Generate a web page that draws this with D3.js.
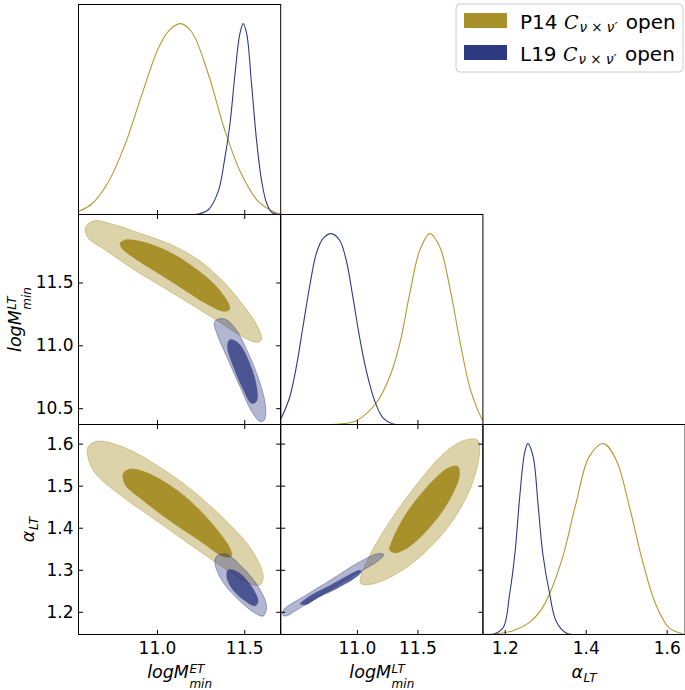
<!DOCTYPE html>
<html><head><meta charset="utf-8">
<script src="https://cdn.jsdelivr.net/npm/d3@7"></script>
<style>body{margin:0;background:#fff;} text{font-family:"DejaVu Sans",sans-serif;}</style>
</head><body>
<svg id="c" width="685" height="690"></svg>
<script>
// ---------- data ----------
const paramDomains = [[10.55, 11.709], [10.37, 12.041], [1.146, 1.6455]];
const xTicks = [[11.0, 11.5], [11.0, 11.5], [1.2, 1.4, 1.6]];
const yTicks = [null, [10.5, 11.0, 11.5], [1.2, 1.3, 1.4, 1.5, 1.6]];
const xLabels = [["logM", "ET", "min"], ["logM", "LT", "min"], ["α", null, "LT"]];
const seriesNames = ["P14", "L19"];

// 1D marginals (x, normalised density)
const p14_logMET = [[10.549,0.016],[10.626,0.055],[10.721,0.170],[10.817,0.367],[10.912,0.625],[11.007,0.870],[11.07,0.965],[11.133,1.0],[11.199,0.956],[11.294,0.736],[11.389,0.44],[11.485,0.209],[11.580,0.069],[11.676,0.012],[11.710,0.004]];
const l19_logMET = [[11.122,0],[11.237,0.003],[11.294,0.025],[11.351,0.121],[11.389,0.297],[11.418,0.473],[11.447,0.736],[11.475,0.947],[11.494,1.0],[11.514,0.947],[11.542,0.683],[11.571,0.385],[11.600,0.174],[11.628,0.06],[11.657,0.012],[11.695,0]];
const p14_logMLT = [[10.581,0],[10.857,0.003],[10.995,0.020],[11.161,0.114],[11.271,0.250],[11.353,0.421],[11.436,0.684],[11.519,0.912],[11.602,1.0],[11.685,0.93],[11.767,0.719],[11.850,0.439],[11.933,0.193],[12.002,0.07],[12.041,0.02]];
const l19_logMLT = [[10.374,0.032],[10.443,0.14],[10.498,0.298],[10.553,0.508],[10.608,0.719],[10.664,0.895],[10.719,0.974],[10.788,1.0],[10.857,0.965],[10.912,0.859],[10.967,0.666],[11.022,0.456],[11.078,0.28],[11.147,0.123],[11.215,0.035],[11.298,0.003],[11.409,0]];
const p14_alpha = [[1.146,0.001],[1.180,0.004],[1.220,0.020],[1.262,0.065],[1.290,0.130],[1.311,0.215],[1.343,0.405],[1.376,0.687],[1.409,0.933],[1.444,1.0],[1.475,0.915],[1.508,0.669],[1.540,0.387],[1.573,0.158],[1.606,0.035],[1.639,0.005]];
const l19_alpha = [[1.171,0],[1.196,0.035],[1.212,0.211],[1.225,0.423],[1.237,0.722],[1.249,0.951],[1.257,1.0],[1.270,0.933],[1.282,0.687],[1.294,0.423],[1.311,0.211],[1.327,0.07],[1.352,0.008],[1.385,0]];

// 2D contours (68% inner, 95% outer) in data units
const p14_ET_LT_95 = [[10.588,11.931],[10.635,11.990],[10.759,11.958],[10.912,11.887],[11.084,11.799],[11.237,11.680],[11.370,11.521],[11.485,11.336],[11.571,11.164],[11.599,11.045],[11.571,11.024],[11.485,11.072],[11.351,11.191],[11.199,11.323],[11.027,11.468],[10.855,11.614],[10.702,11.760],[10.607,11.852]];
const p14_ET_LT_68 = [[10.788,11.812],[10.817,11.839],[10.912,11.826],[11.046,11.760],[11.179,11.654],[11.313,11.508],[11.399,11.362],[11.418,11.288],[11.380,11.270],[11.275,11.336],[11.141,11.455],[10.989,11.587],[10.855,11.706],[10.798,11.773]];
const l19_ET_LT_95 = [[11.342,11.204],[11.389,11.209],[11.447,11.138],[11.523,10.939],[11.590,10.701],[11.622,10.516],[11.615,10.405],[11.590,10.394],[11.542,10.476],[11.475,10.674],[11.399,10.912],[11.342,11.098],[11.328,11.178]];
const l19_ET_LT_68 = [[11.418,11.045],[11.466,11.019],[11.523,10.886],[11.571,10.675],[11.571,10.556],[11.542,10.537],[11.494,10.648],[11.437,10.833],[11.403,10.992]];
const p14_ET_al_95 = [[10.607,1.594],[10.664,1.606],[10.817,1.590],[11.008,1.546],[11.199,1.490],[11.389,1.419],[11.542,1.348],[11.609,1.284],[11.590,1.264],[11.523,1.268],[11.370,1.308],[11.179,1.363],[10.989,1.419],[10.798,1.475],[10.645,1.530],[10.603,1.570]];
const p14_ET_al_68 = [[10.807,1.530],[10.855,1.540],[10.989,1.522],[11.160,1.475],[11.313,1.411],[11.418,1.352],[11.428,1.333],[11.389,1.330],[11.237,1.371],[11.065,1.419],[10.912,1.467],[10.817,1.502]];
const l19_ET_al_95 = [[11.342,1.332],[11.389,1.338],[11.485,1.308],[11.580,1.260],[11.628,1.213],[11.609,1.190],[11.561,1.197],[11.447,1.237],[11.370,1.276],[11.332,1.316]];
const l19_ET_al_68 = [[11.409,1.300],[11.466,1.294],[11.542,1.260],[11.580,1.225],[11.561,1.214],[11.494,1.229],[11.428,1.256],[11.399,1.284]];
const p14_LT_al_95 = [[11.033,1.284],[11.116,1.340],[11.281,1.419],[11.502,1.506],[11.723,1.578],[11.889,1.608],[11.999,1.608],[12.013,1.578],[11.944,1.498],[11.778,1.411],[11.557,1.340],[11.337,1.292],[11.143,1.267],[11.033,1.267]];
const p14_LT_al_68 = [[11.281,1.363],[11.392,1.427],[11.557,1.490],[11.751,1.542],[11.833,1.546],[11.847,1.522],[11.751,1.459],[11.585,1.395],[11.419,1.352],[11.309,1.340],[11.268,1.348]];
const l19_LT_al_95 = [[10.385,1.193],[10.398,1.206],[10.564,1.237],[10.785,1.276],[11.006,1.316],[11.171,1.338],[11.221,1.336],[11.171,1.320],[10.978,1.288],[10.757,1.248],[10.536,1.210],[10.412,1.190]];
const l19_LT_al_68 = [[10.531,1.219],[10.619,1.239],[10.785,1.264],[10.923,1.286],[11.019,1.299],[11.039,1.296],[10.992,1.282],[10.840,1.256],[10.674,1.233],[10.578,1.217]];

// ---------- layout / style ----------
const L = 78.5, T = 4.5, W = 202.2, H = 210;
const colors = {P14: "#a8912a", L19: "#2e3a80"};
const lineColors = {P14: "#b19a32", L19: "#2e3a86"};
const svg = d3.select("#c");
const xs = paramDomains.map((d, i) => d3.scaleLinear().domain(d).range([L + i * W, L + (i + 1) * W]));
const ys = paramDomains.map((d, i) => d3.scaleLinear().domain(d).range([T + (i + 1) * H, T + i * H]));
const yDens = i => d3.scaleLinear().domain([0, 1.1]).range([T + (i + 1) * H, T + i * H]);

const defs = svg.append("defs");
for (let r = 0; r < 3; r++) for (let c = 0; c <= r; c++) {
  defs.append("clipPath").attr("id", `cp${r}${c}`).append("rect")
    .attr("x", L + c * W).attr("y", T + r * H).attr("width", W).attr("height", H);
}

// 1D marginals
const diag = [[p14_logMET, l19_logMET], [p14_logMLT, l19_logMLT], [p14_alpha, l19_alpha]];
diag.forEach((pair, i) => {
  const yy = yDens(i);
  const g = svg.append("g").attr("clip-path", `url(#cp${i}${i})`);
  pair.forEach((data, k) => {
    const name = seriesNames[k];
    const line = d3.line().x(d => xs[i](d[0])).y(d => yy(Math.max(0, d[1]))).curve(d3.curveCatmullRom.alpha(0.5));
    g.append("path").attr("d", line(data)).attr("fill", "none")
      .attr("stroke", lineColors[name]).attr("stroke-width", 1.1);
  });
});

// 2D contours
const panels2d = [
  {r: 1, c: 0, sets: [[p14_ET_LT_95, p14_ET_LT_68], [l19_ET_LT_95, l19_ET_LT_68]]},
  {r: 2, c: 0, sets: [[p14_ET_al_95, p14_ET_al_68], [l19_ET_al_95, l19_ET_al_68]]},
  {r: 2, c: 1, sets: [[p14_LT_al_95, p14_LT_al_68], [l19_LT_al_95, l19_LT_al_68]]}
];
const outerOp = {P14: 0.4, L19: 0.37}, innerOp = {P14: 1, L19: 0.78};
panels2d.forEach(p => {
  const g = svg.append("g").attr("clip-path", `url(#cp${p.r}${p.c})`);
  const line = d3.line().x(d => xs[p.c](d[0])).y(d => ys[p.r](d[1])).curve(d3.curveCatmullRomClosed.alpha(0.5));
  p.sets.forEach((s, k) => {
    const name = seriesNames[k];
    g.append("path").attr("d", line(s[0])).attr("fill", colors[name]).attr("fill-opacity", outerOp[name])
      .attr("stroke", colors[name]).attr("stroke-opacity", 0.45).attr("stroke-width", 0.9);
    g.append("path").attr("d", line(s[1])).attr("fill", colors[name]).attr("fill-opacity", innerOp[name])
      .attr("stroke", colors[name]).attr("stroke-opacity", 0.3).attr("stroke-width", 0.6);
  });
});

// frames & ticks
const TL = 4.5;
for (let r = 0; r < 3; r++) for (let c = 0; c <= r; c++) {
  const x0 = L + c * W, y0 = T + r * H;
  const bottom = svg.append("g").attr("transform", `translate(0,${y0 + H})`)
    .call(d3.axisBottom(xs[c]).tickValues(xTicks[c]).tickSizeInner(-TL).tickSizeOuter(0).tickPadding(7)
      .tickFormat(r === 2 ? d3.format(".1f") : ""));
  bottom.select(".domain").remove();
  bottom.selectAll("text").attr("font-size", 17).attr("fill", "#000").attr("font-family", "DejaVu Sans");
  if (r !== c) {
    const top = svg.append("g").attr("transform", `translate(0,${y0})`)
      .call(d3.axisTop(xs[c]).tickValues(xTicks[c]).tickSizeInner(-TL).tickSizeOuter(0).tickFormat(""));
    top.select(".domain").remove();
    const left = svg.append("g").attr("transform", `translate(${x0},0)`)
      .call(d3.axisLeft(ys[r]).tickValues(yTicks[r]).tickSizeInner(-TL).tickSizeOuter(0).tickPadding(5)
        .tickFormat(c === 0 ? d3.format(".1f") : ""));
    left.select(".domain").remove();
    left.selectAll("text").attr("font-size", 17).attr("fill", "#000").attr("font-family", "DejaVu Sans");
    const right = svg.append("g").attr("transform", `translate(${x0 + W},0)`)
      .call(d3.axisRight(ys[r]).tickValues(yTicks[r]).tickSizeInner(-TL).tickSizeOuter(0).tickFormat(""));
    right.select(".domain").remove();
  }
  svg.append("rect").attr("x", x0).attr("y", y0).attr("width", W).attr("height", H)
    .attr("fill", "none").attr("stroke", "#000").attr("stroke-width", 1);
}

// math-style labels
function mathLabel(cx, cy, rot, main, sup, sub, subDy) {
  const g = svg.append("g").attr("transform", `translate(${cx},${cy}) rotate(${rot})`);
  const inner = g.append("g");
  const t = inner.append("text").attr("font-style", "italic").attr("font-size", 17.5).text(main);
  const wm = t.node().getComputedTextLength();
  let ws = 0, wb = 0;
  if (sup) {
    const s = inner.append("text").attr("x", wm + 0.5).attr("y", -4.6).attr("font-style", "italic").attr("font-size", 12).text(sup);
    ws = s.node().getComputedTextLength();
  }
  if (sub) {
    const s = inner.append("text").attr("x", wm + 0.5).attr("y", subDy).attr("font-style", "italic").attr("font-size", 12).text(sub);
    wb = s.node().getComputedTextLength();
  }
  inner.attr("transform", `translate(${-(wm + Math.max(ws, wb) + 0.5) / 2},0)`);
}
xLabels.forEach((lab, i) => {
  mathLabel(L + (i + 0.5) * W, 677.5, 0, lab[0], lab[1], lab[2], lab[1] ? 10 : 4);
});
mathLabel(21, T + 1.5 * H, -90, "logM", "LT", "min", 10);
mathLabel(33.5, T + 2.5 * H, -90, "α", null, "LT", 4);

// legend
const lg = svg.append("g");
lg.append("rect").attr("x", 456).attr("y", 4).attr("width", 227).attr("height", 68).attr("rx", 4)
  .attr("fill", "#fff").attr("fill-opacity", 0.8).attr("stroke", "#cccccc").attr("stroke-width", 1);
seriesNames.forEach((name, k) => {
  const yb = 28.5 + k * 32;
  lg.append("rect").attr("x", 464).attr("y", yb - 15.5).attr("width", 43).attr("height", 15).attr("fill", colors[name]);
  const t = lg.append("text").attr("x", 520).attr("y", yb).attr("font-size", 20);
  t.append("tspan").text(name + " ");
  t.append("tspan").attr("font-family", "DejaVu Serif").attr("font-style", "italic").attr("font-size", 19).text("C");
  t.append("tspan").attr("font-size", 13.5).attr("font-style", "italic").attr("dy", 3.5).attr("dx", 1).text("ν × ν′");
  t.append("tspan").attr("dy", -3.5).attr("dx", 2).text(" open");
});
</script>
</body></html>
